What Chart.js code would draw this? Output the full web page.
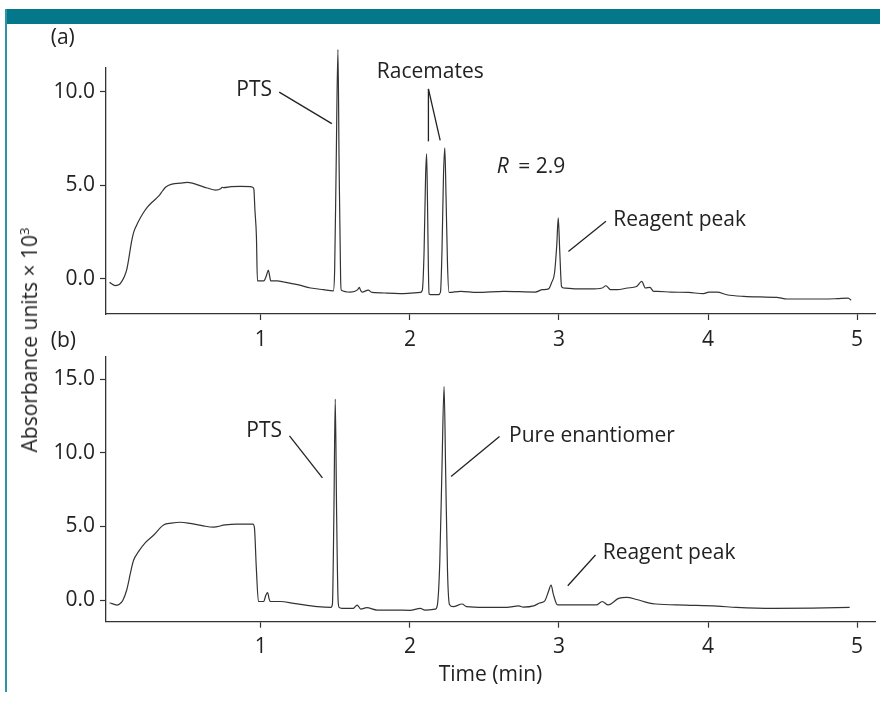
<!DOCTYPE html>
<html><head><meta charset="utf-8">
<script src="https://cdn.jsdelivr.net/npm/chart.js@4.4.0/dist/chart.umd.min.js"></script>
<style>
html,body{margin:0;padding:0;background:#fff;}
#wrap{position:relative;width:880px;height:709px;overflow:hidden;background:#fff;}
#topbar{position:absolute;left:5px;top:9px;width:875px;height:15px;background:#04788a;}
#leftbar{position:absolute;left:5px;top:9px;width:2px;height:683px;background:#2b95a5;}
#cA{position:absolute;left:0;top:0;}
#cB{position:absolute;left:0;top:320px;}
#ytitle{position:absolute;left:29px;top:340px;transform:translate(-50%,-50%) rotate(-90deg);white-space:nowrap;font-family:"Open Sans",sans-serif;font-size:21px;color:#222;}
</style></head>
<body>
<div id="wrap">
<div id="topbar"></div><div id="leftbar"></div>
<canvas id="cA" width="880" height="350"></canvas>
<canvas id="cB" width="880" height="389"></canvas>
<div id="ytitle">Absorbance units × 10<sup style="font-size:13px;vertical-align:8px">3</sup></div>
</div>
<script>
// ---- data ----
const timeA = [-0.015,0.024,0.05,0.069,0.085,0.10,0.112,0.124,0.135,0.147,0.165,0.18,0.213,0.24,0.27,0.317,0.34,0.36,0.405,0.46,0.507,0.54,0.575,0.61,0.64,0.697,0.73,0.74,0.75,0.80,0.862,0.93,0.945,0.953,0.96,0.97,0.977,1.02,1.037,1.05,1.058,1.066,1.11,1.155,1.245,1.334,1.42,1.486,1.495,1.505,1.517,1.525,1.535,1.54,1.6,1.65,1.66,1.67,1.68,1.72,1.747,1.846,1.957,2.07,2.083,2.095,2.105,2.112,2.118,2.124,2.128,2.15,2.19,2.205,2.215,2.225,2.234,2.242,2.252,2.262,2.34,2.45,2.63,2.84,2.89,2.93,2.95,2.97,2.985,2.995,3.005,3.017,3.03,3.12,3.21,3.29,3.315,3.345,3.39,3.46,3.52,3.555,3.58,3.61,3.635,3.66,3.75,3.87,3.97,4.005,4.06,4.125,4.24,4.35,4.46,4.53,4.66,4.78,4.865,4.94,4.96];
const absA = [-0.18,-0.35,-0.3,-0.1,0.15,0.5,1.0,1.6,2.1,2.5,2.85,3.1,3.55,3.85,4.1,4.45,4.7,4.9,5.07,5.12,5.16,5.12,5.03,4.93,4.86,4.75,4.82,4.9,4.88,4.93,4.95,4.93,4.9,4.8,3.7,2.3,-0.1,-0.1,0.17,0.48,0.2,-0.1,-0.1,-0.16,-0.3,-0.48,-0.57,-0.63,0.5,6.0,12.25,6.0,0.0,-0.6,-0.7,-0.57,-0.45,-0.62,-0.7,-0.6,-0.72,-0.75,-0.78,-0.72,-0.6,1.5,5.5,6.69,4.0,0.5,-0.8,-0.84,-0.84,-0.7,1.5,5.5,7.0,4.5,0.8,-0.72,-0.66,-0.72,-0.66,-0.7,-0.57,-0.53,-0.2,0.32,1.8,3.26,1.5,-0.4,-0.48,-0.53,-0.53,-0.48,-0.36,-0.57,-0.57,-0.48,-0.4,-0.13,-0.48,-0.45,-0.66,-0.66,-0.7,-0.72,-0.78,-0.7,-0.7,-0.84,-0.93,-0.96,-0.98,-1.07,-1.07,-1.07,-1.05,-1.02,-1.14];

const timeB = [-0.015,0.035,0.06,0.075,0.10,0.112,0.124,0.146,0.18,0.225,0.28,0.347,0.40,0.46,0.526,0.615,0.68,0.76,0.84,0.947,0.957,0.969,0.984,1.018,1.034,1.045,1.055,1.063,1.13,1.22,1.38,1.47,1.48,1.49,1.499,1.508,1.518,1.525,1.543,1.62,1.646,1.67,1.71,1.78,1.9,2.0,2.07,2.1,2.17,2.183,2.2,2.215,2.229,2.24,2.252,2.265,2.29,2.35,2.38,2.5,2.65,2.73,2.76,2.83,2.87,2.905,2.93,2.947,2.962,2.99,3.1,3.25,3.29,3.33,3.40,3.455,3.52,3.60,3.65,3.85,4.06,4.19,4.44,4.70,4.95];
const absB = [-0.18,-0.34,-0.2,0,0.68,1.2,1.8,2.7,3.3,3.9,4.4,5.1,5.22,5.28,5.2,5.03,4.95,5.1,5.15,5.15,4.88,2.27,-0.1,-0.1,0.34,0.5,0.1,-0.1,-0.1,-0.22,-0.45,-0.5,-0.3,6.0,13.65,6.0,0.0,-0.5,-0.56,-0.56,-0.34,-0.61,-0.52,-0.68,-0.68,-0.7,-0.57,-0.68,-0.62,-0.4,2.5,9.0,14.5,8.5,2.0,-0.3,-0.45,-0.27,-0.45,-0.5,-0.5,-0.4,-0.48,-0.4,-0.2,-0.05,0.6,1.02,0.4,-0.33,-0.33,-0.33,-0.1,-0.33,0.11,0.18,0.04,-0.19,-0.27,-0.34,-0.41,-0.5,-0.57,-0.55,-0.5];

const xTicks = [1,2,3,4,5];
const yTicksA = [0,5,10];
const yTicksB = [0,5,10,15];

// annotations (data coordinates): label text, anchor, and leader lines
const notesA = [
  {text:'(a)', t:-0.41, v:12.85},
  {text:'PTS', t:0.835, v:10.1},
  {text:'Racemates', t:1.778, v:11.07},
  {text:'R', italic:true, rest:' = 2.9', t:2.583, v:5.96},
  {text:'Reagent peak', t:3.364, v:3.17}
];
const leadersA = [[1.123,9.98,1.476,8.3],[2.124,10.15,2.124,7.35],[2.124,10.15,2.203,7.40],[3.315,3.08,3.063,1.47]];
const notesB = [
  {text:'(b)', t:-0.41, v:17.57},
  {text:'PTS', t:0.902, v:11.5},
  {text:'Pure enantiomer', t:2.665, v:11.11},
  {text:'Reagent peak', t:3.293, v:3.2}
];
const leadersB = [[1.192,11.15,1.413,8.3],[2.601,11.11,2.276,8.39],[3.245,3.06,3.059,0.97]];

const FONT = '"Open Sans", sans-serif';
const FS = 21;
const TXT = '#222';

function pts(ts, vs){ return ts.map((t,i)=>({x:t,y:vs[i]})); }

function notesPlugin(notes, leaders){
  return {
    id:'notes',
    afterDraw(chart){
      const {ctx, scales:{x,y}} = chart;
      ctx.save();
      ctx.strokeStyle = TXT; ctx.lineWidth = 1.3;
      leaders.forEach(l=>{
        ctx.beginPath();
        ctx.moveTo(x.getPixelForValue(l[0]), y.getPixelForValue(l[1]));
        ctx.lineTo(x.getPixelForValue(l[2]), y.getPixelForValue(l[3]));
        ctx.stroke();
      });
      ctx.fillStyle = TXT; ctx.textBaseline = 'middle'; ctx.textAlign = 'left';
      notes.forEach(n=>{
        const px = x.getPixelForValue(n.t), py = y.getPixelForValue(n.v);
        ctx.font = (n.italic?'italic ':'') + FS + 'px ' + FONT;
        ctx.fillText(n.text, px, py);
        if (n.rest){
          const w = ctx.measureText(n.text).width;
          ctx.font = FS + 'px ' + FONT;
          ctx.fillText(n.rest, px + w + 4, py);
        }
      });
      ctx.restore();
    }
  };
}

function makeChart(id, ts, vs, yMin, yMax, yTicks, padTop, xH, xTitle, notes, leaders){
  return new Chart(document.getElementById(id), {
    type:'line',
    data:{datasets:[{data:pts(ts,vs), borderColor:'#333', borderWidth:1.2, pointRadius:0, cubicInterpolationMode:'monotone', clip:false, fill:false}]},
    options:{
      responsive:false, animation:false, events:[],
      layout:{padding:{left:0, right:5, top:padTop, bottom:0}},
      plugins:{legend:{display:false}, tooltip:{enabled:false}},
      scales:{
        x:{type:'linear', min:-0.039, max:5.12,
           afterBuildTicks(s){ s.ticks = xTicks.map(v=>({value:v})); },
           afterFit(s){ s.height = xH; },
           grid:{display:true, drawOnChartArea:false, drawTicks:true, tickLength:6, tickColor:'#333', tickWidth:1.2},
           border:{display:true, color:'#333', width:1.3},
           ticks:{color:TXT, font:{family:FONT, size:FS}, padding:7, maxRotation:0, autoSkip:false, callback:v=>String(v)},
           title:xTitle ? {display:true, text:xTitle, color:TXT, font:{family:FONT, size:FS}, padding:{top:0,bottom:21}} : {display:false}
        },
        y:{type:'linear', min:yMin, max:yMax,
           afterBuildTicks(s){ s.ticks = yTicks.map(v=>({value:v})); },
           afterFit(s){ s.width = 106; },
           grid:{display:true, drawOnChartArea:false, drawTicks:true, tickLength:6, tickColor:'#333', tickWidth:1.2},
           border:{display:true, color:'#333', width:1.3},
           ticks:{color:TXT, font:{family:FONT, size:FS}, padding:5, callback:v=>v.toFixed(1)}
        }
      }
    },
    plugins:[notesPlugin(notes, leaders)]
  });
}

makeChart('cA', timeA, absA, -1.87, 11.27, yTicksA, 68, 36, null, notesA, leadersA);
makeChart('cB', timeB, absB, -1.47, 16.5, yTicksB, 37, 87.3, 'Time (min)', notesB, leadersB);
</script>
</body></html>
